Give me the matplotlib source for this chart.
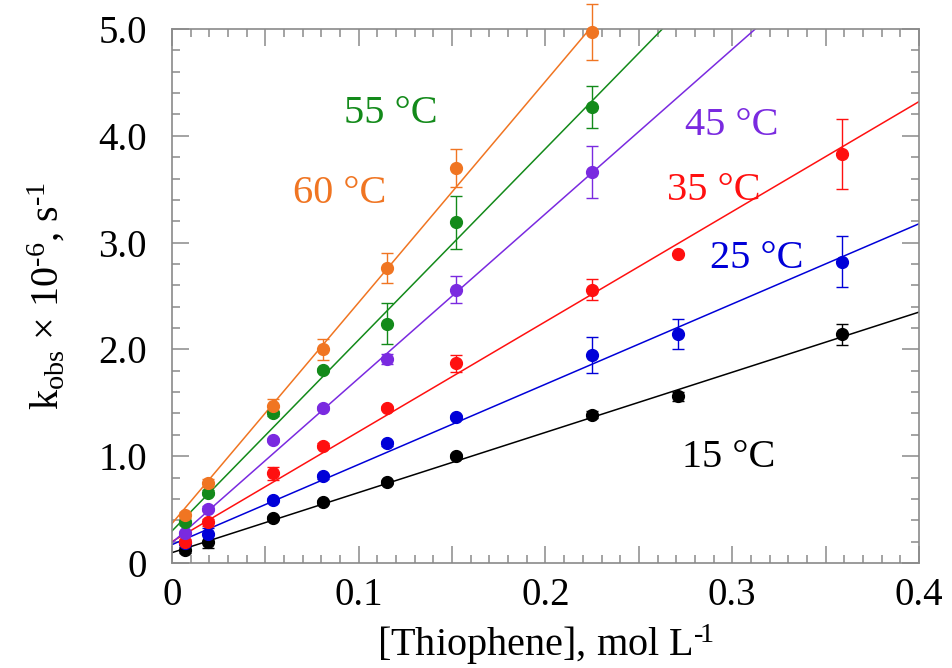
import numpy as np
import matplotlib
matplotlib.use("Agg")
import matplotlib.pyplot as plt
from matplotlib.ticker import MultipleLocator, FuncFormatter

plt.rcParams["font.family"] = ["Liberation Serif", "DejaVu Serif"]
plt.rcParams["mathtext.fontset"] = "custom"
plt.rcParams["mathtext.rm"] = "Liberation Serif"
plt.rcParams["mathtext.it"] = "Liberation Serif"
plt.rcParams["mathtext.default"] = "regular"

# thiophene concentration, mol/L
conc = [0.007, 0.0195, 0.054, 0.081, 0.115, 0.152, 0.225, 0.271, 0.359]

# k_obs x 1e-6 per temperature (None = not measured)
k_15 = [0.12, 0.20, 0.42, 0.57, 0.76, 1.00, 1.39, 1.56, 2.14]
k_25 = [0.19, 0.27, 0.59, 0.81, 1.12, 1.37, 1.95, 2.14, 2.82]
k_35 = [0.20, 0.38, 0.84, 1.10, 1.45, 1.87, 2.56, 2.89, 3.83]
k_45 = [0.28, 0.51, 1.15, 1.45, 1.91, 2.56, 3.66, None, None]
k_55 = [0.38, 0.66, 1.40, 1.81, 2.24, 3.19, 4.27, None, None]
k_60 = [0.45, 0.75, 1.47, 2.00, 2.76, 3.70, 4.97, None, None]

err_15 = [0.03, 0.06, 0.02, 0.02, 0.02, 0.02, 0.03, 0.04, 0.10]
err_25 = [0.02, 0.06, 0.02, 0.02, 0.02, 0.02, 0.17, 0.14, 0.24]
err_35 = [0.02, 0.03, 0.06, 0.02, 0.02, 0.08, 0.10, 0.0, 0.33]
err_45 = [0.02, 0.02, 0.02, 0.02, 0.05, 0.13, 0.24, 0.0, 0.0]
err_55 = [0.02, 0.02, 0.02, 0.02, 0.19, 0.25, 0.20, 0.0, 0.0]
err_60 = [0.03, 0.04, 0.07, 0.10, 0.14, 0.18, 0.26, 0.0, 0.0]

# linear fits: slope, intercept
slopes = [5.63, 7.51, 10.3, 15.4, 17.9, 20.7]
intercepts = [0.097, 0.172, 0.20, 0.19, 0.30, 0.37]

colors = ["black", "#0000d8", "#ff1010", "#7a2ae0", "#138a1a", "#f07522"]
labels = ["15 °C", "25 °C", "35 °C", "45 °C", "55 °C", "60 °C"]
label_x = [0.298, 0.313, 0.290, 0.300, 0.117, 0.090]
label_y = [0.90, 2.76, 3.40, 4.01, 4.12, 3.37]

series = [k_15, k_25, k_35, k_45, k_55, k_60]
errors = [err_15, err_25, err_35, err_45, err_55, err_60]

fig = plt.figure(figsize=(9.52, 6.68), dpi=100)
ax = fig.add_axes([0.1807, 0.1572, 0.7846, 0.7994])

xfit = np.array([0.0, 0.4])
for k, e, m, b, c, lab, lx, ly in zip(series, errors, slopes, intercepts,
                                      colors, labels, label_x, label_y):
    xs = [x for x, v in zip(conc, k) if v is not None]
    ys = [v for v in k if v is not None]
    es = [er for er, v in zip(e, k) if v is not None]
    ax.plot(xfit, m * xfit + b, color=c, lw=1.1, zorder=2)
    ax.errorbar(xs, ys, yerr=es, fmt="o", color=c, ms=8.5, capsize=4.5,
                elinewidth=1.0, capthick=1.0, zorder=3, clip_on=False)
    ax.text(lx, ly, lab, color=c, fontsize=29, ha="center", va="baseline")

ax.set_xlim(0, 0.4)
ax.set_ylim(0, 5.0)

ax.xaxis.set_major_locator(MultipleLocator(0.05))
ax.xaxis.set_minor_locator(MultipleLocator(0.01))
ax.yaxis.set_major_locator(MultipleLocator(1.0))
ax.yaxis.set_minor_locator(MultipleLocator(0.2))


def xfmt(v, pos):
    if abs(v) < 1e-9:
        return "0"
    if abs(round(v * 10) - v * 10) < 1e-6:
        return f"{v:.1f}"
    return ""


def yfmt(v, pos):
    if abs(v) < 1e-9:
        return "0"
    return f"{v:.1f}"


ax.xaxis.set_major_formatter(FuncFormatter(xfmt))
ax.yaxis.set_major_formatter(FuncFormatter(yfmt))

for s in ax.spines.values():
    s.set_color("#8a8a8a")
    s.set_linewidth(1.2)
ax.tick_params(which="both", direction="in", top=True, right=True,
               color="#8a8a8a", width=1.1, labelsize=28)
ax.tick_params(which="major", length=12)
ax.tick_params(which="minor", length=6)
ax.tick_params(axis="x", which="major", pad=10)
ax.tick_params(axis="y", which="major", pad=18)

ax.set_xlabel("[Thiophene], mol L$^{\u2010\\!1}$", fontsize=29, labelpad=6)
ax.set_ylabel("k$_{obs}$ \u00d7 10$^{\u20106}$, s$^{\u20101}$", fontsize=29,
              labelpad=22)

fig.savefig("out.png", dpi=100)
